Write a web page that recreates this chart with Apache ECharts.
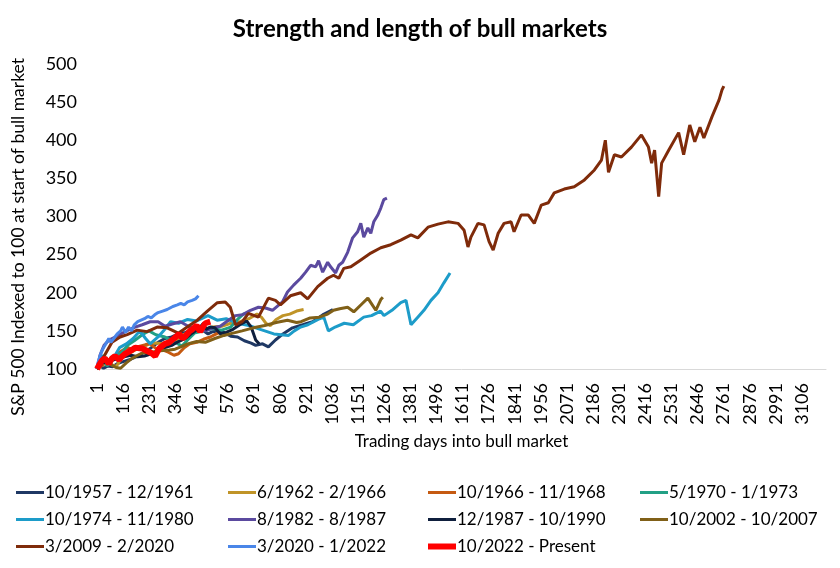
<!DOCTYPE html>
<html><head><meta charset="utf-8">
<script src="https://cdn.jsdelivr.net/npm/echarts@6/dist/echarts.min.js"></script>
<style>html,body{margin:0;padding:0;background:#fff}#c{width:840px;height:568px}</style>
</head><body><div id="c"></div>
<script>
// ---- data: [trading day, index value] ----
const s1957 = [[1,100],[15,104],[30,101],[50,104],[70,103],[90,107],[120,110],[150,113],[180,117],[210,122],[240,128],[270,135],[300,140],[330,142],[360,146],[390,148],[420,151],[445,154],[470,150],[490,146],[510,149],[540,150],[560,148],[590,143],[620,142],[650,137],[680,134],[700,131],[730,133],[756,129],[787,138],[820,146],[862,154],[907,158],[951,162],[995,171],[1040,178]];
const s1962 = [[1,100],[20,106],[40,112],[55,110],[70,105],[85,103],[100,110],[120,117],[140,120],[170,125],[200,128],[230,133],[260,134],[290,133],[320,137],[350,138],[380,145],[410,148],[440,150],[470,152],[510,155],[550,156],[590,160],[630,162],[670,166],[705,172],[725,168],[745,160],[765,157],[790,165],[820,170],[850,172],[880,176],[911,178]];
const s1966 = [[1,100],[20,104],[40,108],[60,111],[85,118],[110,124],[135,128],[160,126],[190,130],[215,132],[235,133],[260,127],[290,125],[315,122],[340,118],[360,120],[385,128],[410,133],[440,135],[470,139],[500,142],[520,145],[540,148]];
const s1970 = [[1,100],[15,108],[30,112],[45,104],[70,112],[90,118],[110,122],[140,132],[165,137],[200,145],[230,150],[260,145],[300,142],[340,136],[375,130],[400,138],[430,147],[470,150],[510,153],[550,151],[590,155],[620,165],[645,172],[660,173]];
const s1974 = [[1,100],[12,112],[25,118],[40,112],[55,105],[75,115],[100,128],[130,133],[160,140],[190,150],[215,140],[235,133],[270,142],[300,152],[325,162],[360,160],[400,165],[440,163],[490,170],[530,164],[570,166],[620,160],[670,157],[720,152],[780,146],[845,144],[870,150],[898,155],[930,158],[975,165],[1000,168],[1020,150],[1050,155],[1090,160],[1130,158],[1176,168],[1210,170],[1250,176],[1265,170],[1300,177],[1339,187],[1362,190],[1384,158],[1414,168],[1441,177],[1472,190],[1503,200],[1529,213],[1556,226]];
const s1982 = [[1,100],[14,118],[32,131],[54,138],[81,142],[107,146],[138,151],[169,155],[200,158],[235,162],[270,162],[301,156],[332,159],[368,162],[403,156],[443,152],[478,150],[513,154],[544,156],[580,164],[611,170],[641,171],[677,177],[712,181],[743,180],[774,177],[818,188],[840,201],[867,210],[898,219],[920,227],[942,236],[964,234],[977,242],[995,227],[1017,240],[1030,234],[1052,226],[1066,236],[1083,240],[1105,253],[1127,272],[1149,280],[1163,291],[1176,273],[1194,285],[1207,278],[1220,293],[1238,302],[1251,311],[1264,322],[1278,324]];
const s1987 = [[1,100],[15,104],[30,110],[45,108],[60,111],[90,113],[120,116],[150,118],[180,116],[210,117],[240,120],[270,123],[300,128],[330,131],[360,136],[390,140],[420,147],[450,153],[470,160],[480,152],[500,155],[520,154],[545,146],[570,148],[600,152],[630,158],[660,163],[680,155],[700,138],[715,133]];
const s2002 = [[1,100],[20,108],[40,115],[60,106],[85,102],[105,101],[130,108],[155,114],[180,118],[200,121],[240,122],[280,124],[320,125],[345,126],[370,129],[400,133],[440,136],[478,135],[520,140],[560,144],[600,147],[640,150],[690,154],[740,157],[790,161],[840,164],[880,161],[900,162],[940,167],[980,168],[1017,172],[1043,177],[1070,179],[1105,181],[1132,175],[1163,184],[1194,193],[1207,187],[1229,177],[1251,191],[1260,194]];
const s2009 = [[1,100],[27,114],[67,135],[103,142],[134,145],[178,151],[222,149],[266,155],[310,154],[359,147],[403,156],[443,164],[487,176],[531,187],[566,188],[588,181],[611,158],[641,162],[668,173],[712,168],[756,193],[787,190],[809,184],[853,196],[898,200],[929,192],[973,208],[1017,219],[1043,223],[1066,219],[1088,232],[1119,234],[1163,243],[1207,252],[1251,259],[1295,263],[1339,269],[1384,276],[1414,272],[1459,286],[1503,290],[1547,293],[1591,291],[1618,282],[1635,260],[1648,273],[1679,291],[1706,289],[1728,267],[1746,256],[1768,278],[1794,291],[1825,293],[1838,280],[1869,302],[1900,302],[1927,291],[1958,315],[1989,318],[2015,331],[2059,336],[2103,339],[2148,348],[2192,361],[2223,374],[2240,400],[2254,358],[2280,381],[2311,378],[2355,391],[2399,407],[2430,391],[2444,370],[2457,387],[2475,326],[2488,370],[2519,387],[2563,410],[2585,381],[2612,420],[2634,398],[2657,417],[2674,403],[2710,431],[2741,453],[2754,466],[2762,471]];
const s2020 = [[1,100],[5,108],[12,115],[20,122],[30,128],[40,133],[53,140],[62,135],[75,140],[90,146],[105,150],[113,155],[127,148],[140,155],[153,150],[165,158],[180,162],[195,164],[210,166],[225,169],[240,167],[255,171],[270,174],[290,176],[310,178],[335,182],[355,184],[370,186],[385,184],[400,188],[420,190],[435,192],[448,196]];
const s2022 = [[1,100],[12,106],[23,111],[35,114],[53,107],[67,114],[80,117],[98,112],[110,116],[125,120],[150,124],[169,128],[200,127],[220,124],[240,121],[257,117],[275,127],[300,133],[319,135],[340,140],[363,146],[378,140],[390,143],[410,150],[421,152],[440,157],[455,149],[478,160],[500,162]];

const seriesNames = ['10/1957 - 12/1961','6/1962 - 2/1966','10/1966 - 11/1968','5/1970 - 1/1973','10/1974 - 11/1980','8/1982 - 8/1987','12/1987 - 10/1990','10/2002 - 10/2007','3/2009 - 2/2020','3/2020 - 1/2022','10/2022 - Present'];
const seriesData = [s1957,s1962,s1966,s1970,s1974,s1982,s1987,s2002,s2009,s2020,s2022];
const colors = ['#1f3864','#c09428','#c55a11','#22a085','#1d9cc9','#5b4a9f','#0f1f3d','#806018','#7f2b0a','#4a86e8','#ff0000'];
const lastDay = 3212;
const yTicks = {min:100, max:500, step:50};

const days = [];
for (let d = 1; d <= lastDay; d++) days.push(String(d));

const FONT = 'Lato, "Open Sans", sans-serif';
const series = seriesData.map((arr, i) => ({
  name: seriesNames[i],
  type: 'line',
  data: arr.map(p => [String(p[0]), p[1]]),
  showSymbol: false,
  symbol: 'none',
  smooth: false,
  lineStyle: {width: i === 10 ? 6 : 3, color: colors[i]},
  itemStyle: {color: colors[i]},
  z: 2 + i
}));

const ROW = 27, TOP = 483;
const groups = [
  {items: [0,4,8], left: 16, top: TOP, h: 3},
  {items: [1,5,9], left: 228, top: TOP, h: 3},
  {items: [2,6], left: 428, top: TOP, h: 3},
  {items: [10], left: 428, top: TOP + 2*ROW, h: 6},
  {items: [3,7], left: 640, top: TOP, h: 3}
];
const legends = groups.map(g => ({
  orient: 'vertical',
  left: g.left,
  top: g.top,
  padding: 0,
  itemGap: 8,
  icon: 'rect',
  itemWidth: 28,
  itemHeight: g.h,
  data: g.items.map(i => seriesNames[i]),
  textStyle: {fontFamily: FONT, fontSize: 17, lineHeight: 19, color: '#000', padding: [0,0,0,-4]}
}));

const chart = echarts.init(document.getElementById('c'));
chart.setOption({
  animation: false,
  backgroundColor: '#fff',
  title: {text: 'Strength and length of bull markets', left: 'center', top: 12,
    textStyle: {fontFamily: FONT, fontSize: 24, fontWeight: 'bold', color: '#000'}},
  legend: legends,
  grid: {left: 97, right: 14, top: 64, bottom: 199, containLabel: false},
  xAxis: {
    type: 'category', data: days, boundaryGap: false,
    name: 'Trading days into bull market', nameLocation: 'middle', nameGap: 62,
    nameTextStyle: {fontFamily: FONT, fontSize: 17, color: '#000'},
    axisLine: {lineStyle: {color: '#d9d9d9', width: 1}},
    axisTick: {show: false},
    axisLabel: {interval: 114, rotate: 90, fontFamily: FONT, fontSize: 18, color: '#000', margin: 14},
    splitLine: {show: false}
  },
  yAxis: {
    type: 'value', min: yTicks.min, max: yTicks.max, interval: yTicks.step,
    axisLine: {show: false}, axisTick: {show: false}, splitLine: {show: false},
    axisLabel: {fontFamily: FONT, fontSize: 18, color: '#000', margin: 20}
  },
  graphic: [{type: 'text', left: 9, top: 58, rotation: Math.PI/2,
    style: {text: 'S&P 500 Indexed to 100 at start of bull market', fontFamily: FONT, fontSize: 17.5, fill: '#000'}}],
  series: series
});
</script></body></html>
